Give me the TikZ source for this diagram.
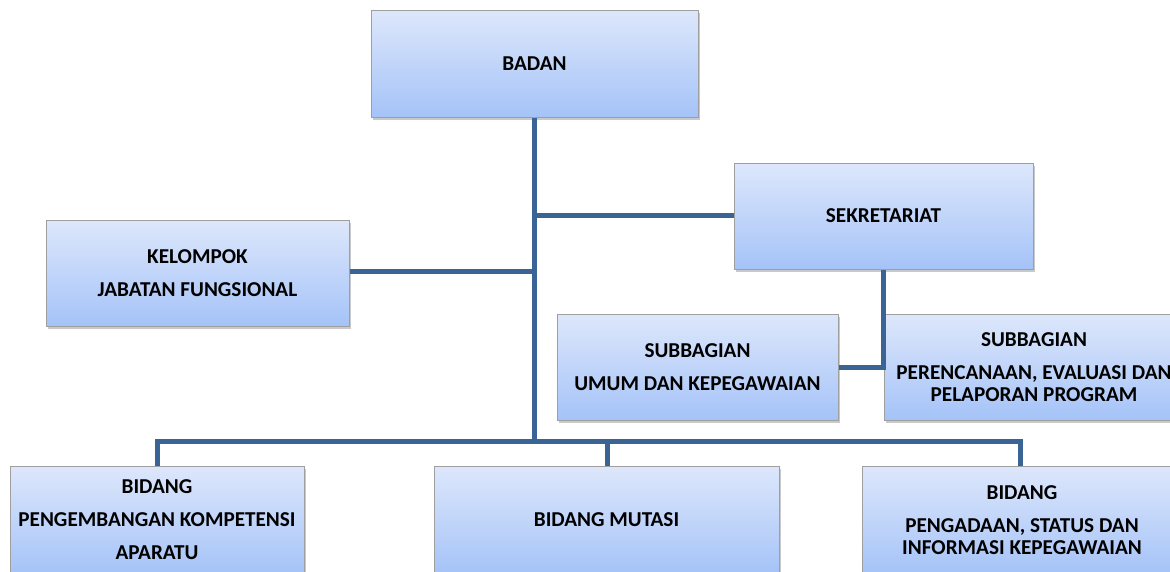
\documentclass[tikz,border=0pt]{standalone}
\usepackage{fontspec}
\setmainfont{Carlito}[BoldFont={Carlito Bold}]
\usetikzlibrary{shadows}
\definecolor{lineblue}{HTML}{3B6496}
\definecolor{boxtop}{HTML}{DDE7FB}
\definecolor{boxbot}{HTML}{A5C3F8}
\tikzset{
  orgbox/.style={draw=gray!75, line width=1pt, top color=boxtop, bottom color=boxbot,
    drop shadow={shadow xshift=2pt, shadow yshift=-3pt, opacity=0.35, fill=black!60},
    align=center, inner sep=0pt, font=\fontsize{21.2}{33}\selectfont\bfseries},
  link/.style={draw=lineblue, line width=5pt}
}
\begin{document}
\begin{tikzpicture}[x=1pt,y=-1pt]
\clip (0,0) rectangle (1170,571);
\fill[white] (0,0) rectangle (1170,571);
\coordinate (j1) at (534.5,215);
\coordinate (j2) at (534.5,271);
\coordinate (j3) at (534.5,441);
\coordinate (bl) at (157,441);
\coordinate (bm) at (607,441);
\coordinate (br) at (1020,441);
\coordinate (sk) at (883,367);
\node[orgbox, minimum width=327pt, minimum height=107pt] (badan) at (534.5,63.5) {BADAN};
\node[orgbox, minimum width=299pt, minimum height=106pt] (sek) at (883.5,216) {SEKRETARIAT};
\node[orgbox, minimum width=303pt, minimum height=106pt] (kel) at (197.5,273) {KELOMPOK\\JABATAN FUNGSIONAL};
\node[orgbox, minimum width=281pt, minimum height=106pt] (umum) at (697.5,367) {SUBBAGIAN\\UMUM DAN KEPEGAWAIAN};
\node[orgbox, minimum width=300pt, minimum height=106pt] (ren) at (1034,367) {SUBBAGIAN\\PERENCANAAN, EVALUASI DAN\\[-11pt]PELAPORAN PROGRAM};
\node[orgbox, minimum width=294pt, minimum height=108pt] (b1) at (157,520) {BIDANG\\PENGEMBANGAN KOMPETENSI\\APARATU};
\node[orgbox, minimum width=345pt, minimum height=108pt] (b2) at (606.5,520) {BIDANG MUTASI};
\node[orgbox, minimum width=320pt, minimum height=108pt] (b3) at (1022,520) {BIDANG\\PENGADAAN, STATUS DAN\\[-11pt]INFORMASI KEPEGAWAIAN};
\draw[link] (badan.south) -- (j3);
\draw[link] (j1) -- (j1 -| sek.west);
\draw[link] (kel.east |- j2) -- (j2);
\draw[link] (sek.south -| sk) -- (sk) -- (sk -| umum.east);
\draw[link] (bl |- b1.north) -- (bl) -- (br) -- (br |- b3.north);
\draw[link] (bm) -- (bm |- b2.north);
\end{tikzpicture}
\end{document}
